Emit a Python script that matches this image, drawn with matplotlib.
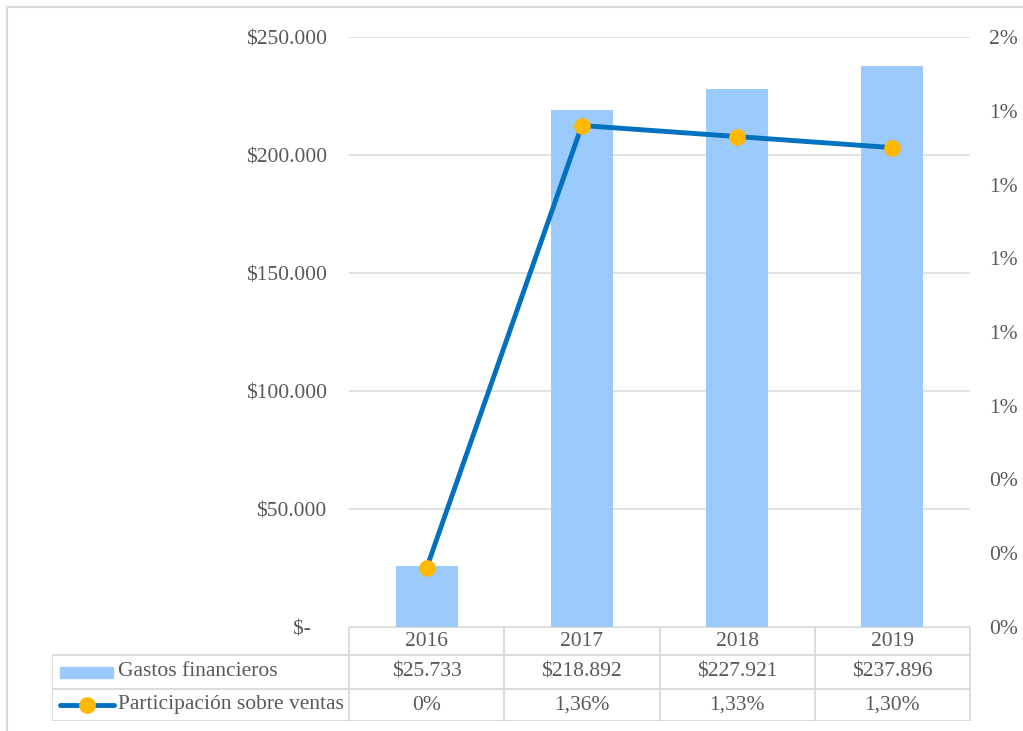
import matplotlib.pyplot as plt
from matplotlib.lines import Line2D
from matplotlib.patches import Rectangle
from matplotlib.ticker import FuncFormatter, MultipleLocator

years = ["2016", "2017", "2018", "2019"]
gastos = [25733, 218892, 227921, 237896]
participacion = [0.0016, 0.0136, 0.0133, 0.0130]
part_decimales = [0, 2, 2, 2]

serie_barras = "Gastos financieros"
serie_linea = "Participación sobre ventas"

azul_claro = "#9BCBFD"
azul = "#0070C0"
amarillo = "#FFB800"
gris_txt = "#595959"
gris_lin = "#D9D9D9"

plt.rcParams["font.family"] = ["Liberation Serif", "DejaVu Serif"]
fs = 15.5

W, H = 1023, 731
fig = plt.figure(figsize=(W / 100, H / 100), dpi=100)


def fx(px):
    return px / W


def fy(py):
    return 1 - py / H


def pesos(v):
    if v == 0:
        return "$-   "
    return "$" + f"{v:,.0f}".replace(",", ".")


def pct(v, dec):
    return f"{v * 100:.{dec}f}%".replace(".", ",")


# main plot area
left, right, top, bottom = 349, 970, 37, 627
ax = fig.add_axes([fx(left), fy(bottom), fx(right - left), (bottom - top) / H])
x = list(range(len(years)))
ax.bar(x, gastos, width=0.4, color=azul_claro, zorder=2)
ax.set_xlim(-0.5, 3.5)
ax.set_ylim(0, 250000)
ax.yaxis.set_major_locator(MultipleLocator(50000))
ax.yaxis.set_major_formatter(FuncFormatter(lambda v, p: pesos(v)))
ax.grid(axis="y", color=gris_lin, linewidth=1.1, zorder=0)
ax.set_xticks([])
for s in ax.spines.values():
    s.set_visible(False)
ax.tick_params(axis="y", length=0, pad=16, labelsize=fs, labelcolor=gris_txt)

ax2 = ax.twinx()
ax2.plot(x, participacion, color=azul, linewidth=3.5, marker="o",
         markersize=11, markerfacecolor=amarillo, markeredgecolor=amarillo,
         solid_capstyle="round", zorder=3)
ax2.set_ylim(0, 0.016)
ax2.yaxis.set_major_locator(MultipleLocator(0.002))
ax2.yaxis.set_major_formatter(FuncFormatter(lambda v, p: f"{v * 100:.0f}%"))
for s in ax2.spines.values():
    s.set_visible(False)
ax2.tick_params(axis="y", length=0, pad=14, labelsize=fs, labelcolor=gris_txt)

# data table below the plot
t_left, t_bottom = 52, 721
cat_w = (right - left) / 4
tab = fig.add_axes([fx(t_left), fy(t_bottom), fx(right + 1 - t_left), (t_bottom - bottom) / H])
tab.set_xlim(-0.5 - (left - t_left) / cat_w, 3.5 + 1 / cat_w)
tab.set_ylim(t_bottom, bottom)
tab.axis("off")

rows = [627, 655, 689, 721]
xl = -0.5 - (left - t_left) / cat_w
lk = dict(color=gris_lin, linewidth=1.3, solid_capstyle="projecting")
tab.plot([-0.5, 3.5], [rows[0], rows[0]], **lk)
for r in rows[1:]:
    tab.plot([xl, 3.5], [r, r], **lk)
for i in range(5):
    tab.plot([i - 0.5, i - 0.5], [rows[0], rows[3]], **lk)
tab.plot([xl, xl], [rows[1], rows[3]], **lk)

ymid = [(rows[i] + rows[i + 1]) / 2 for i in range(3)]
for i, yr in enumerate(years):
    tab.text(i, ymid[0], yr, ha="center", va="center", fontsize=fs, color=gris_txt)
    tab.text(i, ymid[1], pesos(gastos[i]), ha="center", va="center", fontsize=fs, color=gris_txt)
    tab.text(i, ymid[2], pct(participacion[i], part_decimales[i]), ha="center",
             va="center", fontsize=fs, color=gris_txt)

# legend keys inside the row header cells
k0 = xl + 8 / cat_w
k1 = xl + 61 / cat_w
tab.add_patch(Rectangle((k0, 678), k1 - k0, -11, color=azul_claro))
tab.plot([xl + 8 / cat_w, xl + 62 / cat_w], [705, 705], color=azul, linewidth=3.5,
         solid_capstyle="round")
tab.plot([xl + 35 / cat_w], [705], marker="o", markersize=11, color=amarillo)
tab.text(xl + 66 / cat_w, ymid[1], serie_barras, ha="left", va="center", fontsize=fs, color=gris_txt)
tab.text(xl + 66 / cat_w, ymid[2], serie_linea, ha="left", va="center", fontsize=fs, color=gris_txt)

# chart frame
fig.add_artist(Line2D([fx(7), 1], [fy(7), fy(7)], color=gris_lin, linewidth=1.5))
fig.add_artist(Line2D([fx(7), fx(7)], [fy(7), 0], color=gris_lin, linewidth=1.5))

fig.savefig("out.png", dpi=100)
